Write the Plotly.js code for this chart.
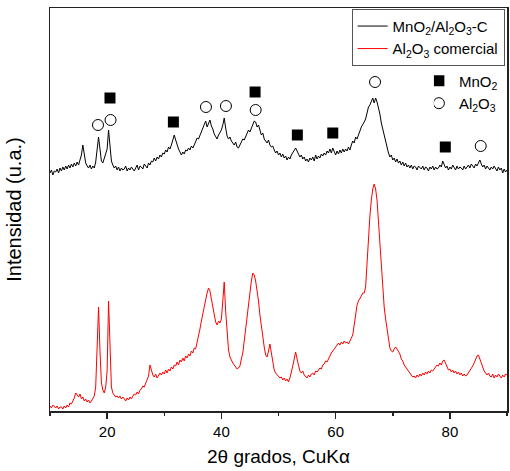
<!DOCTYPE html>
<html>
<head>
<meta charset="utf-8">
<script src="https://cdn.plot.ly/plotly-3.0.1.min.js"></script>
<style>html,body{margin:0;padding:0;background:#fff;}#chart{width:510px;height:471px;}</style>
</head>
<body>
<div id="chart"></div>
<script>
// 2θ axis: start 10°, step 0.25°
const twoThetaStart = 10;
const twoThetaStep = 0.25;

// MnO2/Al2O3-C (black), intensity (a.u.)
const mnoAlC = [
238,241,236,240, 239,242,238,243, 240,244,241,245, 242,246,243,247, 244,248,245,249,
246,250,256,266, 255,248,245,243, 246,242,245,243, 249,262,274,262, 250,248,252,258,
262,281,266,250, 246,243,245,241, 244,240,243,241, 242,245,240,243, 241,244,242,240,
243,246,241,245, 244,242,247,245, 243,248,246,250, 249,253,250,254, 252,256,254,258,
257,261,259,264, 262,266,270,276, 271,265,262,259, 256,259,257,261, 260,263,261,265,
263,266,270,273, 272,276,279,283, 286,290,284,288, 291,285,282,277, 274,272,276,279,
281,286,293,283, 275,272,274,270, 268,266,269,264, 263,266,268,272, 271,275,278,281,
279,283,286,290, 289,284,286,280, 276,278,272,270, 268,271,266,264, 265,261,258,260,
256,258,254,257, 253,255,251,254, 252,256,258,261, 263,260,257,254, 256,252,254,250,
252,249,253,251, 254,250,256,252, 255,253,257,255, 258,256,260,258, 262,258,263,259,
256,260,257,261, 258,262,259,262, 260,264,261,266, 270,268,274,272, 277,280,284,286,
289,292,298,304, 306,309,313,308, 313,309,304,297, 288,282,274,268, 263,258,254,256,
251,253,249,252, 248,250,246,249, 245,248,244,246, 243,246,242,245, 244,241,245,243,
242,245,241,244, 243,240,244,242, 245,241,244,242, 243,246,244,250, 246,243,245,241,
244,242,246,243, 241,245,242,244, 243,241,245,242, 244,246,243,247, 245,243,247,245,
248,251,247,244, 246,242,245,243, 241,244,242,245, 243,240,244,241, 243,238,242,239,
241
];

// Al2O3 comercial (red), intensity (a.u.)
const al2o3Com = [
5,3,6,4, 3,5,2,4, 4,2,5,3, 6,4,8,7, 10,13,18,16,
14,17,12,14, 10,12,9,11, 8,10,12,15, 24,70,104,60, 28,21,18,24,
40,110,60,24, 18,16,14,15, 13,15,12,14, 12,10,13,11, 14,12,15,17,
16,19,17,21, 22,25,24,28, 30,35,46,40, 36,34,37,33, 35,38,36,39,
37,41,38,42, 40,44,42,46, 45,49,46,51, 49,53,50,55, 53,57,55,60,
58,63,62,68, 74,82,90,98, 104,112,118,123, 120,112,104,96, 89,86,90,88,
92,110,129,100, 78,61,54,50, 48,46,44,42, 43,45,52,58, 70,82,96,112,
122,130,138,136, 130,122,110,96, 84,74,64,56, 54,60,67,58, 48,41,38,36,
35,33,34,31, 33,30,32,29, 33,38,45,52, 59,52,44,40, 38,40,36,34,
33,36,34,37, 38,36,40,39, 41,43,42,46, 47,50,49,53, 55,58,60,62,
64,67,68,66, 69,67,70,68, 69,67,70,72, 76,86,96,106, 110,112,115,118,
118,124,150,181, 195,211,222,227, 222,211,190,165, 140,120,104,92, 82,72,63,60,
59,62,64,62, 60,57,52,50, 46,44,41,39, 38,36,34,35, 33,36,34,37,
35,38,36,39, 37,40,38,41, 40,42,44,46, 45,48,46,50, 51,47,44,41,
42,39,41,38, 40,37,39,36, 38,35,37,35, 36,38,40,43, 45,48,52,55,
56,52,47,43, 40,38,36,38, 35,34,37,33, 36,34,37,35, 33,36,34,37,
36
];

// Phase markers (2θ position, label height)
const mno2X = [20.5, 31.6, 45.9, 53.3, 59.5, 79.2];
const mno2Y = [313, 289, 319, 276, 278, 264];
const al2o3X = [18.4, 20.6, 37.3, 40.8, 46.0, 66.9, 85.4];
const al2o3Y = [286, 291, 304, 305, 301, 329, 265];

const font = 'Liberation Sans, Arial, sans-serif';

const traces = [
  {type:'scatter', mode:'lines', name:'MnO<sub>2</sub>/Al<sub>2</sub>O<sub>3</sub>-C',
   x0: twoThetaStart, dx: twoThetaStep, y: mnoAlC,
   line:{color:'#000000', width:1}, legend:'legend'},
  {type:'scatter', mode:'lines', name:'Al<sub>2</sub>O<sub>3</sub> comercial',
   x0: twoThetaStart, dx: twoThetaStep, y: al2o3Com,
   line:{color:'#ff0000', width:1}, legend:'legend'},
  {type:'scatter', mode:'markers', name:'MnO<sub>2</sub>', x: mno2X, y: mno2Y,
   marker:{symbol:'square', size:11, color:'#000000'}, legend:'legend2'},
  {type:'scatter', mode:'markers', name:'Al<sub>2</sub>O<sub>3</sub>', x: al2o3X, y: al2o3Y,
   marker:{symbol:'circle-open', size:11, color:'#000000', line:{width:1, color:'#000000'}}, legend:'legend2'}
];

const layout = {
  width:510, height:471,
  margin:{l:50, r:3, t:8, b:60},
  paper_bgcolor:'#fff', plot_bgcolor:'#fff',
  font:{family:font, size:15, color:'#000'},
  showlegend:true,
  xaxis:{range:[10,90], showgrid:false, zeroline:false,
    showline:true, mirror:true, linecolor:'#222', linewidth:1.5,
    ticks:'outside', ticklen:6, tickwidth:1.5, tickcolor:'#222',
    tick0:0, dtick:20, tickfont:{size:15, family:font},
    minor:{dtick:10, ticks:'outside', ticklen:3, tickwidth:1.5, tickcolor:'#222'},
    title:{text:'2θ grados, CuKα', font:{size:19, family:font}, standoff:11}},
  yaxis:{range:[0,403], showgrid:false, zeroline:false,
    showline:true, mirror:true, linecolor:'#222', linewidth:1.5,
    ticks:'', showticklabels:false,
    title:{text:'Intensidad (u.a.)', font:{size:20, family:font}, standoff:21}},
  legend:{x:0.66, y:0.998, xanchor:'left', yanchor:'top',
    bgcolor:'#fff', bordercolor:'#555', borderwidth:1,
    font:{size:15, family:font}, tracegroupgap:0, itemwidth:30},
  legend2:{x:0.84, y:0.86, xanchor:'left', yanchor:'top',
    bgcolor:'rgba(0,0,0,0)', borderwidth:0, indentation:-15,
    font:{size:15, family:font}, tracegroupgap:0, itemwidth:30}
};

Plotly.newPlot('chart', traces, layout, {displayModeBar:false, staticPlot:true});
</script>
</body>
</html>
